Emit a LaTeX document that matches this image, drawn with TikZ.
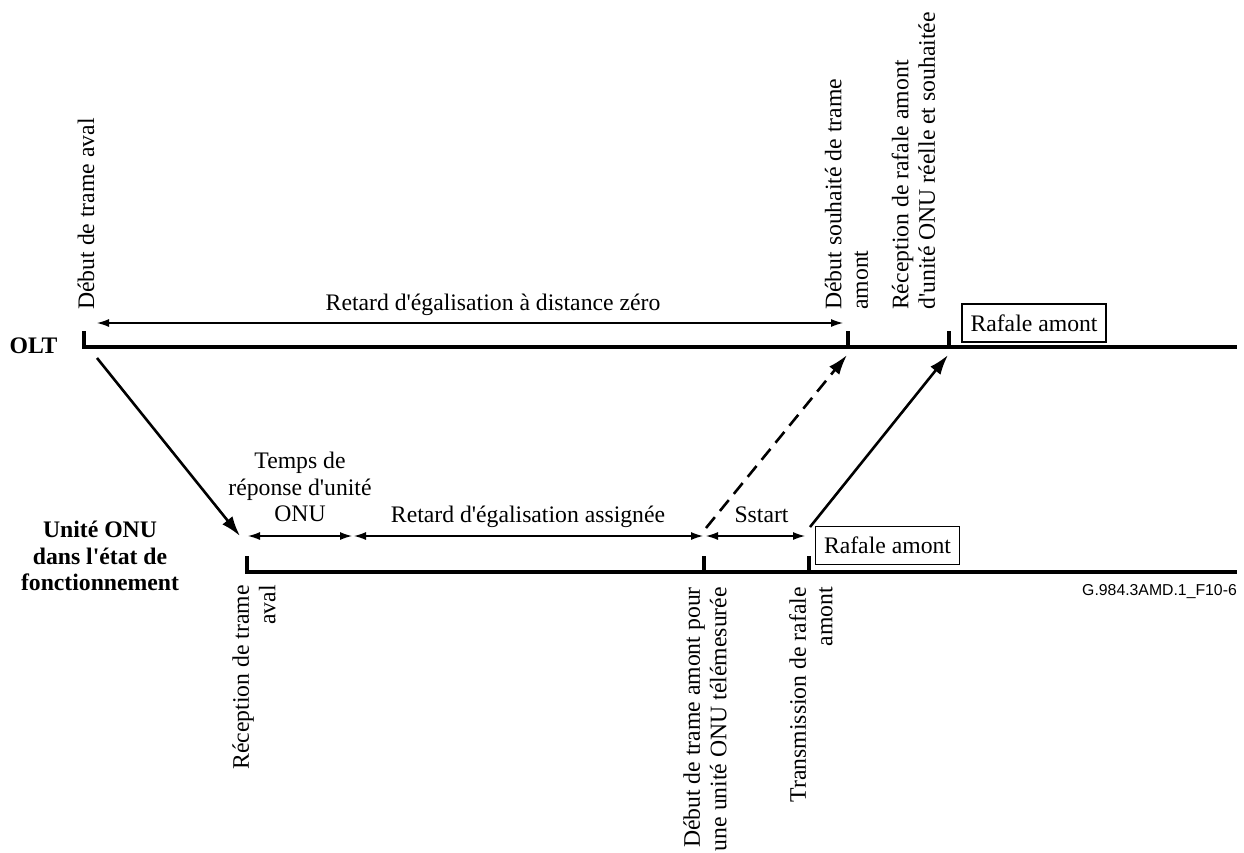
\documentclass[tikz,border=0pt]{standalone}
\usepackage{fontspec}
\setmainfont{Liberation Serif}[Ligatures=TeXOff]
\newfontfamily\labelsans{Liberation Sans}
\usetikzlibrary{arrows.meta}
\newcommand\figfont{\fontsize{23.7}{26.5}\selectfont}
\begin{document}
\begin{tikzpicture}[x=1pt,y=-1pt,
  every node/.style={inner sep=0pt, font=\figfont},
  axisline/.style={line width=4.5pt},
  tickmark/.style={line width=4.5pt},
  span/.style={line width=1.2pt, {Latex[length=12pt,width=8pt]}-{Latex[length=12pt,width=8pt]}},
  signal/.style={line width=2.6pt, -{Latex[length=20pt,width=13pt]}},
  burst/.style={draw, line width=1.2pt, minimum width=144pt, minimum height=38pt},
  vlabel/.style={rotate=90, align=left, anchor=west},
  vlabelbelow/.style={rotate=90, align=right, anchor=east},
]
\useasboundingbox (0,0) rectangle (1244,852);

% time axes
\coordinate (olt0) at (84,347);
\coordinate (oltEnd) at (1237,347);
\coordinate (oltA) at (848,347);
\coordinate (oltB) at (949,347);
\coordinate (onu0) at (247,572);
\coordinate (onuEnd) at (1237,572);
\coordinate (onuA) at (704,572);
\coordinate (onuB) at (809,572);

\draw[axisline] (84,331) -- (olt0) -- (oltEnd);
\draw[axisline] (247,556) -- (onu0) -- (onuEnd);
\draw[tickmark] (848,331) -- (oltA);
\draw[tickmark] (949,331) -- (oltB);
\draw[tickmark] (704,556) -- (onuA);
\draw[tickmark] (809,556) -- (onuB);

% axis names
\node[font=\figfont\bfseries, anchor=base] (oltName) at (33.5,353) {OLT};
\node[font=\figfont\bfseries, align=center, anchor=north] (onuName) at (100,521)
  {Unité ONU\\dans l'état de\\fonctionnement};

% upstream bursts
\node[burst] (burstOlt) at (1034,323) {Rafale amont};
\node[burst] (burstOnu) at (887.5,545.5) {Rafale amont};

% interval markers
\coordinate (zl) at (97,323);
\coordinate (zr) at (843,323);
\draw[span] (zl) -- (zr);
\node[anchor=base] (zeroLbl) at (493,310) {Retard d'égalisation à distance zéro};

\coordinate (a0) at (248,536);
\coordinate (a1l) at (352,536);
\coordinate (a1r) at (354,536);
\coordinate (a2l) at (703,536);
\coordinate (a2r) at (706,536);
\coordinate (a3) at (805,536);
\draw[span] (a0) -- (a1l);
\draw[span] (a1r) -- (a2l);
\draw[span] (a2r) -- (a3);
\node[align=center, anchor=north] (respLbl) at (300,452) {Temps de\\réponse d'unité\\ONU};
\node[anchor=base] (eqLbl) at (528,522) {Retard d'égalisation assignée};
\node[anchor=base] (sstartLbl) at (761.5,522) {Sstart};

% signal propagation
\coordinate (dnFrom) at (97,358);
\coordinate (dnTo) at (240,536);
\coordinate (expFrom) at (706,528);
\coordinate (expTo) at (847,355);
\coordinate (upFrom) at (810,527);
\coordinate (upTo) at (948,355);
\draw[signal] (dnFrom) -- (dnTo);
\draw[signal, dash pattern=on 14pt off 8pt] (expFrom) -- (expTo);
\draw[signal] (upFrom) -- (upTo);

% event labels
\node[vlabel] (dtaLbl) at (86,310) {Début de trame aval};
\node[vlabel] (dstaLbl) at (846.5,310) {Début souhaité de trame\\amont};
\node[vlabel] (rraLbl) at (913.5,310) {Réception de rafale amont\\d'unité ONU réelle et souhaitée};
\node[vlabelbelow] (rtaLbl) at (254,585) {Réception de trame\\aval};
\node[vlabelbelow] (dtapLbl) at (705,587) {Début de trame amont pour\\une unité ONU télémesurée};
\node[vlabelbelow] (traLbl) at (811,587) {Transmission de rafale\\amont};

\node[font=\labelsans\fontsize{15.8}{18}\selectfont, anchor=east] (figId) at (1237,592) {G.984.3AMD.1\_F10-6};
\end{tikzpicture}
\end{document}
